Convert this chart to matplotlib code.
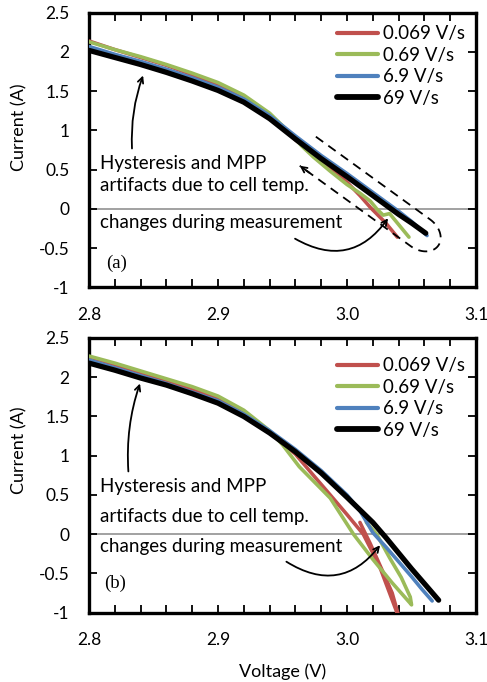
import numpy as np
import matplotlib
matplotlib.use("Agg")
import matplotlib.pyplot as plt

plt.rcParams['font.family'] = ['Lato', 'DejaVu Sans']
plt.rcParams['axes.unicode_minus'] = False

# ---------------- data ----------------
labels = ['0.069 V/s', '0.69 V/s', '6.9 V/s', '69 V/s']
colors = ['#C0504D', '#9BBB59', '#4F81BD', '#000000']
widths = [2.6, 2.6, 2.6, 3.8]

# panel (a)
a_red_v = [2.800, 2.820, 2.840, 2.860, 2.880, 2.900, 2.920, 2.940, 2.960, 2.974, 2.987, 3.000, 3.010, 3.018, 3.030, 3.039]
a_red_i = [2.14, 2.03, 1.93, 1.83, 1.71, 1.59, 1.43, 1.20, 0.88, 0.70, 0.53, 0.34, 0.17, 0.02, -0.18, -0.36]
a_green_v = [2.800, 2.820, 2.840, 2.860, 2.880, 2.900, 2.920, 2.940, 2.955, 2.965, 2.974, 2.987, 3.000, 3.010, 3.018, 3.023, 3.028, 3.033, 3.040, 3.048]
a_green_i = [2.13, 2.03, 1.94, 1.84, 1.73, 1.61, 1.45, 1.22, 0.98, 0.80, 0.66, 0.48, 0.31, 0.20, 0.10, 0.00, -0.08, -0.06, -0.20, -0.36]
a_blue_v = [2.800, 2.820, 2.840, 2.860, 2.880, 2.900, 2.920, 2.940, 2.960, 2.980, 3.000, 3.020, 3.040, 3.050, 3.062]
a_blue_i = [2.07, 1.97, 1.88, 1.78, 1.67, 1.55, 1.40, 1.19, 0.93, 0.68, 0.45, 0.21, -0.03, -0.16, -0.34]
a_black_v = [2.800, 2.820, 2.840, 2.860, 2.880, 2.900, 2.920, 2.940, 2.960, 2.980, 3.000, 3.020, 3.040, 3.050, 3.061]
a_black_i = [2.02, 1.93, 1.84, 1.74, 1.63, 1.51, 1.36, 1.15, 0.89, 0.64, 0.41, 0.17, -0.07, -0.18, -0.31]

# panel (b)  (sweep down in voltage, then the return trace)
b_red_v = [2.800, 2.820, 2.840, 2.860, 2.880, 2.900, 2.920, 2.940, 2.960, 2.975, 2.987, 3.000, 3.0126, 3.025, 3.0385, 3.041, 3.035, 3.027, 3.018, 3.010]
b_red_i = [2.26, 2.16, 2.06, 1.96, 1.84, 1.73, 1.55, 1.30, 1.02, 0.73, 0.50, 0.25, 0.00, -0.40, -0.99, -1.10, -0.75, -0.45, -0.12, 0.15]
b_green_v = [2.800, 2.820, 2.840, 2.860, 2.880, 2.900, 2.920, 2.940, 2.950, 2.963, 2.975, 2.987, 3.005, 3.020, 3.035, 3.049, 3.050, 3.049, 3.042, 3.033, 3.023, 3.015]
b_green_i = [2.27, 2.18, 2.08, 1.98, 1.88, 1.76, 1.58, 1.32, 1.14, 0.86, 0.66, 0.46, 0.00, -0.32, -0.62, -0.88, -0.90, -0.80, -0.55, -0.30, 0.00, 0.15]
b_blue_v = [2.800, 2.820, 2.840, 2.860, 2.880, 2.900, 2.920, 2.940, 2.960, 2.980, 3.000, 3.010, 3.020, 3.030, 3.040, 3.050, 3.058, 3.066]
b_blue_i = [2.22, 2.12, 2.02, 1.92, 1.81, 1.70, 1.53, 1.32, 1.08, 0.81, 0.50, 0.30, 0.02, -0.16, -0.35, -0.54, -0.70, -0.85]
b_black_v = [2.800, 2.820, 2.840, 2.860, 2.880, 2.900, 2.920, 2.940, 2.960, 2.980, 3.000, 3.020, 3.030, 3.040, 3.050, 3.060, 3.071]
b_black_i = [2.18, 2.09, 1.99, 1.90, 1.79, 1.67, 1.50, 1.29, 1.05, 0.78, 0.47, 0.15, -0.04, -0.24, -0.44, -0.63, -0.84]

x_ticks = list(np.round(np.arange(2.80, 3.1001, 0.02), 2))
x_ticklabels = {2.8: '2.8', 2.9: '2.9', 3.0: '3.0', 3.1: '3.1'}
y_ticks = [-1, -0.5, 0, 0.5, 1, 1.5, 2, 2.5]
y_ticklabels = ['-1', '-0.5', '0', '0.5', '1', '1.5', '2', '2.5']

annot_lines = ['Hysteresis and MPP', 'artifacts due to cell temp.', 'changes during measurement']

fig = plt.figure(figsize=(4.87, 6.82), dpi=100)
ax_a = fig.add_axes([0.1828, 0.5787, 0.7947, 0.4026])
ax_b = fig.add_axes([0.1828, 0.1016, 0.7947, 0.4028])

panels = [
    (ax_a, [(a_red_v, a_red_i), (a_green_v, a_green_i), (a_blue_v, a_blue_i), (a_black_v, a_black_i)]),
    (ax_b, [(b_red_v, b_red_i), (b_green_v, b_green_i), (b_blue_v, b_blue_i), (b_black_v, b_black_i)]),
]

for ax, series in panels:
    ax.axhline(0, color='#9a9a9a', lw=1.3, zorder=1)
    for (v, i), c, lw, lab in zip(series, colors, widths, labels):
        ax.plot(v, i, color=c, lw=lw, label=lab, solid_joinstyle='round', solid_capstyle='round', zorder=3)
    ax.set_xlim(2.8, 3.1)
    ax.set_ylim(-1, 2.5)
    ax.set_xticks(x_ticks)
    ax.set_xticklabels([x_ticklabels.get(round(t, 2), '') for t in x_ticks])
    ax.set_yticks(y_ticks)
    ax.set_yticklabels(y_ticklabels)
    ax.tick_params(direction='in', top=True, right=True, length=6, width=1.3,
                   labelsize=12.5, pad=14)
    for sp in ax.spines.values():
        sp.set_linewidth(2.4)
    ax.set_ylabel('Current (A)', fontsize=13)
    leg = ax.legend(loc='upper left', frameon=False, fontsize=13.5,
                    handlelength=2.2, handletextpad=0.25, labelspacing=0.24,
                    borderpad=0, borderaxespad=0)
    for h in leg.get_lines():
        h.set_linewidth(3.0 if h.get_color() != '#000000' else 4.2)

ax_a.yaxis.set_label_coords(-0.16, 0.584)
ax_b.yaxis.set_label_coords(-0.16, 0.592)
ax_a.get_legend().set_bbox_to_anchor((0.64, 0.955), transform=ax_a.transAxes)
ax_b.get_legend().set_bbox_to_anchor((0.64, 0.930), transform=ax_b.transAxes)
ax_b.set_xlabel('Voltage (V)', fontsize=13, labelpad=11)

# text annotations
def texts(ax, ys):
    for s, y in zip(annot_lines, ys):
        ax.text(2.8085, y, s, fontsize=13.5, va='center', ha='left', zorder=5)

texts(ax_a, [0.58, 0.30, -0.18])
texts(ax_b, [0.61, 0.22, -0.16])

ax_a.text(2.813, -0.70, '(a)', family='Liberation Serif', fontsize=13.5, va='center')
ax_b.text(2.812, -0.62, '(b)', family='Liberation Serif', fontsize=13.5, va='center')

arrow_kw = dict(arrowstyle='->', color='black', lw=1.3, shrinkA=0, shrinkB=0)
ax_a.annotate('', xy=(2.8419, 1.70), xytext=(2.8333, 0.77),
              arrowprops=dict(connectionstyle='arc3,rad=-0.1', **arrow_kw))
ax_b.annotate('', xy=(2.8395, 1.92), xytext=(2.8305, 0.80),
              arrowprops=dict(connectionstyle='arc3,rad=-0.1', **arrow_kw))
ax_a.annotate('', xy=(3.0318, -0.12), xytext=(2.9597, -0.38),
              arrowprops=dict(connectionstyle='arc3,rad=0.45', **arrow_kw))
ax_b.annotate('', xy=(3.0256, -0.14), xytext=(2.953, -0.35),
              arrowprops=dict(connectionstyle='arc3,rad=0.45', **arrow_kw))

# dashed loop in panel (a), built in pixel units then mapped to data
sx, sy = 1290.0, 78.46
p0 = np.array([2.9721, 0.705])
u = np.array([0.810 / sx, -0.587 / sy])
n = np.array([0.587 / sx, 0.810 / sy])
half = 16.5
t_end = 135
upper_t = np.linspace(-6, t_end, 30)
phi = np.linspace(np.pi / 2, -np.pi / 2, 40)
cap_t = t_end + 22 * np.cos(phi)
cap_s = half * np.sin(phi)
lower_t = np.linspace(t_end, -2, 30)
tt = np.concatenate([upper_t, cap_t, lower_t])
ss = np.concatenate([np.full_like(upper_t, half), cap_s, np.full_like(lower_t, -half)])
pts = p0[None, :] + tt[:, None] * u[None, :] + ss[:, None] * n[None, :]
ax_a.plot(pts[:, 0], pts[:, 1], color='black', lw=1.3, ls=(0, (5, 3.5)), zorder=4)
tip = pts[-1]
tail = pts[-1] + 12 * u
ax_a.annotate('', xy=tuple(tip), xytext=tuple(tail),
              arrowprops=dict(arrowstyle='->', color='black', lw=1.3, shrinkA=0, shrinkB=0))

fig.savefig('out.png', dpi=100)
